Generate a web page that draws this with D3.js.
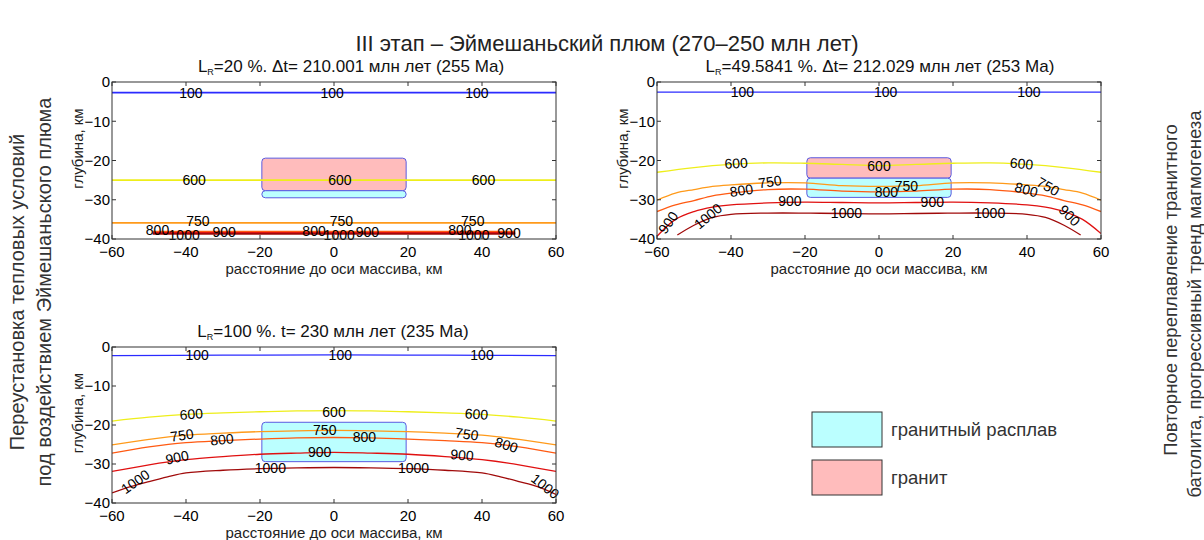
<html>
<head>
<script src="https://d3js.org/d3.v7.min.js"></script>
<style>
  body { margin: 0; background: #fff; }
  text { font-family: "Liberation Sans", Arial, sans-serif; }
  .tick-label { font-size: 15px; fill: #000; }
  .axis-label { font-size: 15px; fill: #222; }
  .panel-title { font-size: 17px; fill: #111; }
  .clabel { font-size: 14px; fill: #000; }
  .side { fill: #333; }
</style>
</head>
<body>
<svg id="mainSVG" width="1204" height="540"></svg>
<script>
const svg = d3.select("#mainSVG");

// ---- data ----
const xTicks = [-60, -40, -20, 0, 20, 40, 60];
const yTicks = [0, -10, -20, -30, -40];
const levels = [100, 600, 750, 800, 900, 1000];
const levelColors = ["#2b2bff", "#eeee1a", "#ff9a1a", "#ff5a12", "#e01010", "#a00a0a"];

const titles = [
  ["20 %. Δt= 210.001 млн лет (255 Ма)"],
  ["49.5841 %. Δt= 212.029 млн лет (253 Ма)"],
  ["100 %. t= 230 млн лет (235 Ма)"]
];

// contour lines: [level, [[x, depth], ...]]
const contours1 = [
  [100,  [[-60, -2.7], [60, -2.7]]],
  [600,  [[-60, -25], [60, -25]]],
  [750,  [[-60, -35.9], [60, -35.9]]],
  [800,  [[-49, -38.1], [49, -38.1]]],
  [900,  [[-49, -38.4], [49, -38.4]]],
  [1000, [[-49, -38.7], [49, -38.7]]]
];
const contours2 = [
  [100,  [[-60, -2.6], [60, -2.6]]],
  [600,  [[-60, -23.0], [-50, -21.8], [-40, -21.0], [-30, -20.6], [-20, -20.7], [-10, -21.0], [0, -21.3],
          [10, -21.0], [20, -20.7], [30, -20.6], [40, -21.0], [50, -21.8], [60, -23.0]]],
  [750,  [[-60, -30.1], [-55, -28.3], [-50, -27.4], [-45, -26.6], [-40, -26.2], [-30, -25.7], [-20, -25.7], [-10, -26.4], [0, -26.6],
          [10, -26.4], [20, -25.7], [30, -25.7], [40, -26.2], [45, -26.6], [50, -27.4], [55, -28.3], [60, -30.1]]],
  [800,  [[-60, -33.0], [-55, -31.3], [-50, -30.2], [-45, -29.0], [-40, -28.3], [-30, -27.4], [-20, -27.3], [-10, -27.8], [0, -28.0],
          [10, -27.8], [20, -27.3], [30, -27.4], [40, -28.3], [45, -29.0], [50, -30.2], [55, -31.3], [60, -33.0]]],
  [900,  [[-60, -39.3], [-55, -35.0], [-50, -33.0], [-45, -31.9], [-40, -31.3], [-30, -30.8], [-20, -30.6], [-10, -30.7], [0, -30.8],
          [10, -30.7], [20, -30.6], [30, -30.8], [40, -31.3], [45, -31.9], [50, -33.0], [55, -35.0], [60, -38.6]]],
  [1000, [[-54.5, -39.0], [-50, -36.5], [-45, -34.5], [-40, -33.7], [-30, -33.4], [-20, -33.4], [-10, -33.5], [0, -33.6],
          [10, -33.5], [20, -33.4], [30, -33.4], [40, -33.7], [45, -34.5], [50, -36.5], [54.5, -39.0]]]
];
const contours3 = [
  [100,  [[-60, -2.2], [-30, -2.1], [0, -2.0], [30, -2.1], [60, -2.2]]],
  [600,  [[-60, -19.0], [-50, -18.0], [-40, -17.3], [-30, -16.9], [-20, -16.6], [-10, -16.4], [0, -16.3],
          [10, -16.4], [20, -16.6], [30, -16.9], [40, -17.3], [50, -18.0], [60, -19.0]]],
  [750,  [[-60, -25.1], [-50, -23.7], [-40, -22.6], [-30, -22.1], [-20, -21.7], [-10, -21.5], [0, -21.4],
          [10, -21.5], [20, -21.7], [30, -22.1], [40, -22.6], [50, -23.7], [60, -25.1]]],
  [800,  [[-60, -27.2], [-50, -25.6], [-40, -24.5], [-30, -24.0], [-20, -23.6], [-10, -23.3], [0, -23.2],
          [10, -23.3], [20, -23.6], [30, -24.0], [40, -24.5], [50, -25.6], [60, -27.2]]],
  [900,  [[-60, -31.9], [-50, -30.2], [-40, -28.9], [-30, -28.1], [-20, -27.5], [-10, -27.2], [0, -27.0],
          [10, -27.2], [20, -27.5], [30, -28.1], [40, -28.9], [50, -30.2], [60, -31.9]]],
  [1000, [[-60, -37.4], [-55, -35.8], [-50, -34.5], [-45, -33.3], [-40, -32.3], [-30, -31.6], [-20, -31.2], [-10, -31.0], [0, -30.9],
          [10, -31.0], [20, -31.2], [30, -31.6], [40, -32.3], [45, -33.3], [50, -34.5], [55, -35.8], [60, -37.8]]]
];

// contour labels: [level, x, depth, angle]
const labels1 = [
  [100, -38.7, -2.8, 0], [100, -0.5, -2.8, 0], [100, 38.6, -2.8, 0],
  [600, -37.8, -24.9, 0], [600, 1.6, -24.9, 0], [600, 40.4, -24.9, 0],
  [750, -36.8, -35.4, 0], [750, 2, -35.4, 0], [750, 37.5, -35.4, 0],
  [800, -47.7, -37.8, 0], [800, -5.4, -37.9, 0], [800, 34, -37.7, 0],
  [900, -29.7, -38.2, 0], [900, 9, -38.2, 0], [900, 47.3, -38.4, 0],
  [1000, -40.5, -39.1, 0], [1000, 1.4, -39.1, 0], [1000, 37.8, -39.0, 0]
];
const labels2 = [
  [100, -36.9, -2.6, 0], [100, 1.8, -2.6, 0], [100, 40.5, -2.6, 0],
  [600, -38.6, -20.7, -3], [600, 0, -21.3, 0], [600, 38.5, -20.8, 5],
  [750, -29.5, -25.4, -8], [750, 7.4, -26.5, 0], [750, 45.7, -26.6, 30],
  [800, -37.2, -27.6, -8], [800, 2, -28.1, 0], [800, 39.8, -27.4, 15],
  [900, -57, -35.8, -55], [900, -24.1, -30.4, 0], [900, 14.4, -30.7, 0], [900, 51.5, -34.0, 45],
  [1000, -46.2, -34.2, -40], [1000, -8.8, -33.5, 0], [1000, 29.9, -33.5, 0]
];
const labels3 = [
  [100, -37, -2.1, 0], [100, 1.7, -2.0, 0], [100, 40, -2.1, 0],
  [600, -38.6, -17.2, -4], [600, 0, -16.6, 0], [600, 38.5, -17.2, 4],
  [750, -41.1, -22.6, -8], [750, -2.5, -21.4, 0], [750, 35.9, -22.3, 8],
  [800, -30.3, -23.7, -5], [800, 8.2, -23.2, 0], [800, 46.6, -25.1, 18],
  [900, -42.4, -28.3, -12], [900, -3.9, -26.8, 0], [900, 34.6, -27.7, 5],
  [1000, -53.7, -34.5, -35], [1000, -17.2, -30.9, 0], [1000, 21.5, -31.1, 0], [1000, 57.1, -35.7, 38]
];

// massif bodies: [kind, x0, x1, topDepth, bottomDepth]
const bodies1 = [["granite", -19.5, 19.5, -19.4, -27.7], ["melt", -19.5, 19.5, -27.7, -29.5]];
const bodies2 = [["granite", -19.5, 19.5, -19.3, -24.5], ["melt", -19.5, 19.5, -24.5, -29.4]];
const bodies3 = [["melt", -19.5, 19.5, -19.3, -29.4]];

const legendItems = [["melt", "гранитный расплав"], ["granite", "гранит"]];
const bodyFill = { melt: "#bbffff", granite: "#ffbcbc" };

// ---- layout ----
const panels = [
  { left: 112, right: 556, top: 82, bottom: 239, titleX: 351, contours: contours1, labels: labels1, bodies: bodies1, title: titles[0] },
  { left: 657, right: 1101, top: 82, bottom: 239, titleX: 880, contours: contours2, labels: labels2, bodies: bodies2, title: titles[1] },
  { left: 112, right: 556, top: 347, bottom: 503, titleX: 333, contours: contours3, labels: labels3, bodies: bodies3, title: titles[2] }
];

const color = d3.scaleOrdinal().domain(levels).range(levelColors);

svg.append("rect").attr("width", 1204).attr("height", 540).attr("fill", "#fff");

// main title
svg.append("text")
  .attr("x", 607).attr("y", 51)
  .attr("text-anchor", "middle")
  .style("font-size", "22px").style("fill", "#222")
  .text("III этап – Эймешаньский плюм (270–250 млн лет)");

panels.forEach((p, i) => {
  const x = d3.scaleLinear().domain([-60, 60]).range([p.left, p.right]);
  const y = d3.scaleLinear().domain([-40, 0]).range([p.bottom, p.top]);
  const g = svg.append("g");

  g.append("clipPath").attr("id", "clip" + i)
    .append("rect")
    .attr("x", p.left).attr("y", p.top)
    .attr("width", p.right - p.left).attr("height", p.bottom - p.top);

  // bodies
  g.selectAll("rect.body")
    .data(p.bodies)
    .join("rect")
    .attr("class", "body")
    .attr("x", d => x(d[1]))
    .attr("y", d => y(d[3]))
    .attr("width", d => x(d[2]) - x(d[1]))
    .attr("height", d => y(d[4]) - y(d[3]))
    .attr("rx", 3.5).attr("ry", 3.5)
    .attr("fill", d => bodyFill[d[0]])
    .attr("stroke", "#5a5ae0")
    .attr("stroke-width", 1);

  // contours
  const line = d3.line()
    .x(d => x(d[0]))
    .y(d => y(d[1]))
    .curve(d3.curveCatmullRom);

  g.append("g").attr("clip-path", `url(#clip${i})`)
    .selectAll("path")
    .data(p.contours)
    .join("path")
    .attr("d", d => line(d[1]))
    .attr("fill", "none")
    .attr("stroke", d => color(d[0]))
    .attr("stroke-width", i === 0 ? 1.6 : 1.3);

  // contour labels
  g.selectAll("text.clabel")
    .data(p.labels)
    .join("text")
    .attr("class", "clabel")
    .attr("text-anchor", "middle")
    .attr("dominant-baseline", "central")
    .attr("transform", d => `translate(${x(d[1])},${y(d[2])}) rotate(${d[3]})`)
    .text(d => d[0]);

  // frame
  g.append("rect")
    .attr("x", p.left).attr("y", p.top)
    .attr("width", p.right - p.left).attr("height", p.bottom - p.top)
    .attr("fill", "none").attr("stroke", "#333").attr("stroke-width", 1);

  // ticks on all sides, pointing inward
  const tickLen = 4;
  const fmt = d3.format("d");
  g.selectAll("line.xt")
    .data(xTicks.flatMap(t => [[t, p.bottom, -tickLen], [t, p.top, tickLen]]))
    .join("line")
    .attr("x1", d => x(d[0])).attr("x2", d => x(d[0]))
    .attr("y1", d => d[1]).attr("y2", d => d[1] + d[2])
    .attr("stroke", "#333");
  g.selectAll("line.yt")
    .data(yTicks.flatMap(t => [[t, p.left, tickLen], [t, p.right, -tickLen]]))
    .join("line")
    .attr("y1", d => y(d[0])).attr("y2", d => y(d[0]))
    .attr("x1", d => d[1]).attr("x2", d => d[1] + d[2])
    .attr("stroke", "#333");

  g.selectAll("text.xtl")
    .data(xTicks)
    .join("text")
    .attr("class", "tick-label")
    .attr("x", d => x(d))
    .attr("y", p.bottom + 18)
    .attr("text-anchor", "middle")
    .text(fmt);
  g.selectAll("text.ytl")
    .data(yTicks)
    .join("text")
    .attr("class", "tick-label")
    .attr("x", p.left - 2)
    .attr("y", d => y(d))
    .attr("dy", "0.35em")
    .attr("text-anchor", "end")
    .text(fmt);

  // axis labels
  g.append("text")
    .attr("class", "axis-label")
    .attr("x", (p.left + p.right) / 2)
    .attr("y", p.bottom + 35)
    .attr("text-anchor", "middle")
    .text("расстояние до оси массива, км");
  g.append("text")
    .attr("class", "axis-label")
    .attr("transform", `translate(${p.left - 34},${(p.top + p.bottom) / 2 - 12}) rotate(-90)`)
    .attr("text-anchor", "middle")
    .attr("dy", "0.35em")
    .text("глубина, км");

  // title with L subscript R
  const t = g.append("text")
    .attr("class", "panel-title")
    .attr("x", p.titleX)
    .attr("y", p.top - 10)
    .attr("text-anchor", "middle");
  t.append("tspan").text("L");
  t.append("tspan").attr("dy", 3).style("font-size", "9px").text("R");
  t.append("tspan").attr("dy", -3).text("=" + p.title[0]);
});

// legend
const legend = svg.append("g").attr("transform", "translate(812,412)");
legend.selectAll("rect")
  .data(legendItems)
  .join("rect")
  .attr("x", 0)
  .attr("y", (d, i) => i * 48)
  .attr("width", 70).attr("height", 35)
  .attr("fill", d => bodyFill[d[0]])
  .attr("stroke", "#333").attr("stroke-width", 1);
legend.selectAll("text")
  .data(legendItems)
  .join("text")
  .attr("x", 79)
  .attr("y", (d, i) => i * 48 + 17.5)
  .attr("dy", "0.35em")
  .style("font-size", "18.5px").style("fill", "#333")
  .text(d => d[1]);

// side captions
const sideLeft = ["Переустановка тепловых условий", "под воздействием Эймешаньского плюма"];
const sideRight = ["Повторное переплавление транитного", "батолита, прогрессивный тренд магмогенеза"];
svg.selectAll("text.sideL")
  .data(sideLeft)
  .join("text")
  .attr("class", "side")
  .style("font-size", "20px")
  .attr("text-anchor", "middle")
  .attr("transform", (d, i) => `translate(${24 + i * 27},292) rotate(-90)`)
  .text(d => d);
svg.selectAll("text.sideR")
  .data(sideRight)
  .join("text")
  .attr("class", "side")
  .style("font-size", "18.5px")
  .attr("text-anchor", "middle")
  .attr("transform", (d, i) => `translate(${1177 + i * 24},${290 + i * 14}) rotate(-90)`)
  .text(d => d);
</script>
</body>
</html>
